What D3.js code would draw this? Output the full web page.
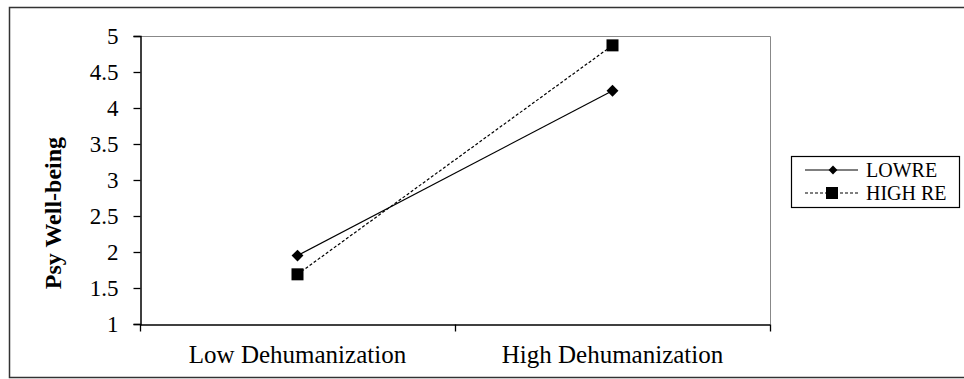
<!DOCTYPE html>
<html>
<head>
<meta charset="utf-8">
<script src="https://cdn.jsdelivr.net/npm/d3@7"></script>
<style>
  body { margin: 0; background: #fff; }
  svg text { font-family: "Liberation Serif", "Times New Roman", serif; fill: #000; }
</style>
</head>
<body>
<div id="chart"></div>
<script>
const categories = ["Low Dehumanization", "High Dehumanization"];
const lowRE = [1.95, 4.24];
const highRE = [1.69, 4.87];
const yTicks = [1, 1.5, 2, 2.5, 3, 3.5, 4, 4.5, 5];

const width = 964, height = 379;
const plotLeft = 140, plotRight = 770, plotTop = 36, plotBottom = 324;
const serif = "'Liberation Serif', 'Times New Roman', serif";

const svg = d3.select("#chart").append("svg")
    .attr("width", width)
    .attr("height", height)
    .style("font-family", serif);

// outer frame
svg.append("rect")
    .attr("x", 9.5).attr("y", 7.5)
    .attr("width", 970).attr("height", 370)
    .attr("fill", "none")
    .attr("stroke", "#333")
    .attr("stroke-width", 1.5);

const x = d3.scaleBand()
    .domain(categories)
    .range([plotLeft, plotRight]);

const y = d3.scaleLinear()
    .domain([1, 5])
    .range([plotBottom, plotTop]);

// plot area border (top and right, gray)
svg.append("path")
    .attr("d", `M${plotLeft},${plotTop + 0.5}H${plotRight + 0.5}V${plotBottom}`)
    .attr("fill", "none")
    .attr("stroke", "#888")
    .attr("stroke-width", 1);

const yAxis = svg.append("g")
    .attr("transform", `translate(${plotLeft + 0.5},0)`)
    .call(d3.axisLeft(y).tickValues(yTicks).tickFormat(d3.format("")).tickSize(7).tickPadding(15))
    .attr("font-family", serif)
    .attr("font-size", 23);
yAxis.select(".domain").attr("stroke", "#000").attr("stroke-width", 1.5);
yAxis.selectAll(".tick line").attr("stroke-width", 1.3);

const xAxis = svg.append("g")
    .attr("transform", `translate(0,${plotBottom + 0.5})`)
    .call(d3.axisBottom(x).tickSize(0).tickPadding(21))
    .attr("font-family", serif)
    .attr("font-size", 25);
xAxis.select(".domain").attr("stroke", "#000").attr("stroke-width", 1.5);

// category boundary ticks
const bounds = [plotLeft, plotLeft + x.bandwidth(), plotRight];
xAxis.selectAll(".bound")
    .data(bounds)
    .enter().append("line")
    .attr("x1", d => d + 0.5).attr("x2", d => d + 0.5)
    .attr("y1", 0).attr("y2", 7)
    .attr("stroke", "#000")
    .attr("stroke-width", 1.3);

svg.append("text")
    .attr("transform", `translate(61,213) rotate(-90)`)
    .attr("text-anchor", "middle")
    .style("font-size", "24px")
    .style("font-weight", "bold")
    .text("Psy Well-being");

const cx = (d, i) => x(categories[i]) + x.bandwidth() / 2;
const line = d3.line().x(cx).y(d => y(d));

svg.append("path")
    .datum(lowRE)
    .attr("d", line)
    .attr("fill", "none")
    .attr("stroke", "#000")
    .attr("stroke-width", 1.2);

svg.append("path")
    .datum(highRE)
    .attr("d", line)
    .attr("fill", "none")
    .attr("stroke", "#000")
    .attr("stroke-width", 1.2)
    .attr("stroke-dasharray", "3,2");

const diamond = d3.symbol().type(d3.symbolDiamond2).size(90);
svg.selectAll(".lowpt")
    .data(lowRE)
    .enter().append("path")
    .attr("transform", (d, i) => `translate(${cx(d, i)},${y(d)})`)
    .attr("d", diamond)
    .attr("fill", "#000");

svg.selectAll(".highpt")
    .data(highRE)
    .enter().append("rect")
    .attr("x", (d, i) => cx(d, i) - 6)
    .attr("y", d => y(d) - 6)
    .attr("width", 12).attr("height", 12)
    .attr("fill", "#000");

// legend
const legend = svg.append("g").attr("transform", "translate(791,156)");
legend.append("rect")
    .attr("x", 0.5).attr("y", 0.5)
    .attr("width", 168).attr("height", 51)
    .attr("fill", "#fff")
    .attr("stroke", "#000")
    .attr("stroke-width", 1.2);

const legendItems = [
    { name: "LOWRE", dash: null, shape: "diamond" },
    { name: "HIGH RE", dash: "3,2", shape: "square" }
];
legendItems.forEach((d, i) => {
    const gy = 14 + i * 23;
    const g = legend.append("g").attr("transform", `translate(0,${gy})`);
    g.append("line")
        .attr("x1", 14).attr("x2", 67)
        .attr("stroke", "#000")
        .attr("stroke-width", 1.2)
        .attr("stroke-dasharray", d.dash);
    if (d.shape === "diamond") {
        g.append("path")
            .attr("transform", "translate(42,0)")
            .attr("d", d3.symbol().type(d3.symbolDiamond2).size(50))
            .attr("fill", "#000");
    } else {
        g.append("rect")
            .attr("x", 35).attr("y", -6)
            .attr("width", 12).attr("height", 12)
            .attr("fill", "#000");
    }
    g.append("text")
        .attr("x", 75)
        .attr("dy", "0.35em")
        .style("font-size", "20px")
        .text(d.name);
});
</script>
</body>
</html>
